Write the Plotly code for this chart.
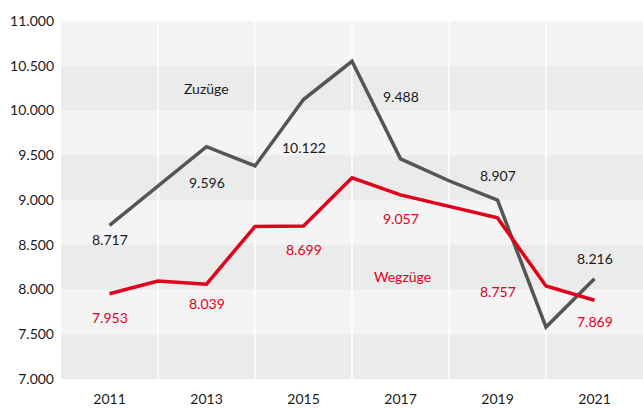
import plotly.graph_objects as go

years = list(range(2011, 2022))
zuzuege = [8717, 9160, 9596, 9380, 10122, 10550, 9460, 9215, 9000, 7580, 8120]
wegzuege = [7953, 8095, 8060, 8705, 8710, 9248, 9057, 8930, 8800, 8040, 7880]

label_years = [2011, 2013, 2015, 2017, 2019, 2021]
zuz_labels = ["8.717", "9.596", "10.122", "9.488", "8.907", "8.216"]
weg_labels = ["7.953", "8.039", "8.699", "9.057", "8.757", "7.869"]
# pixel offsets of labels relative to the line point (positive = below)
zuz_offsets = [14, 36, 48, -62, -25, -20]
weg_offsets = [24, 19, 24, 24, 74, 21]

y_ticks = [7000, 7500, 8000, 8500, 9000, 9500, 10000, 10500, 11000]
x_ticks = [2011, 2013, 2015, 2017, 2019, 2021]
grid_years = [2012, 2014, 2016, 2018, 2020]

GREY = "#555555"
RED = "#e2001a"
FONT = "Lato, Open Sans, sans-serif"

fig = go.Figure()
fig.add_trace(go.Scatter(x=years, y=zuzuege, mode="lines",
                         line=dict(color=GREY, width=3.5), hoverinfo="skip"))
fig.add_trace(go.Scatter(x=years, y=wegzuege, mode="lines",
                         line=dict(color=RED, width=3.5), hoverinfo="skip"))

shapes = []
for i in range(len(y_ticks) - 1):
    if i % 2 == 0:
        shapes.append(dict(type="rect", xref="paper", x0=0, x1=1, yref="y",
                           y0=y_ticks[i], y1=y_ticks[i + 1],
                           fillcolor="#ebebeb", line=dict(width=0), layer="below"))
for gy in grid_years:
    shapes.append(dict(type="line", xref="x", x0=gy, x1=gy, yref="paper", y0=0, y1=1,
                       line=dict(color="white", width=1.5), layer="below"))

annotations = []
for yr, txt, off in zip(label_years, zuz_labels, zuz_offsets):
    annotations.append(dict(x=yr, y=zuzuege[years.index(yr)], text=txt, showarrow=False,
                            yshift=-off, font=dict(color="#1a1a1a", size=14, family=FONT)))
for yr, txt, off in zip(label_years, weg_labels, weg_offsets):
    annotations.append(dict(x=yr, y=wegzuege[years.index(yr)], text=txt, showarrow=False,
                            yshift=-off, font=dict(color=RED, size=14, family=FONT)))
annotations.append(dict(x=2013, y=10250, text="Zuzüge", showarrow=False,
                        font=dict(color="#1a1a1a", size=14, family=FONT)))
annotations.append(dict(x=2017.05, y=8150, text="Wegzüge", showarrow=False,
                        font=dict(color=RED, size=14, family=FONT)))

fig.update_layout(
    width=643, height=408,
    margin=dict(l=61, r=0, t=21, b=29),
    paper_bgcolor="white", plot_bgcolor="#f4f4f4",
    showlegend=False,
    separators=",.",
    font=dict(family=FONT, size=14, color="#1a1a1a"),
    shapes=shapes, annotations=annotations,
    xaxis=dict(range=[2010, 2022], tickvals=x_ticks, ticktext=[str(t) for t in x_ticks],
               showgrid=False, zeroline=False, showline=False, ticks="",
               ticklabelstandoff=10, fixedrange=True),
    yaxis=dict(range=[7000, 11000], tickvals=y_ticks, tickformat=",d",
               showgrid=False, zeroline=False, showline=False, ticks="",
               ticklabelstandoff=6, fixedrange=True),
)

fig.write_html("out.html", config={"displayModeBar": False},
               post_script="document.body.style.margin='0';document.body.style.overflow='hidden';")
